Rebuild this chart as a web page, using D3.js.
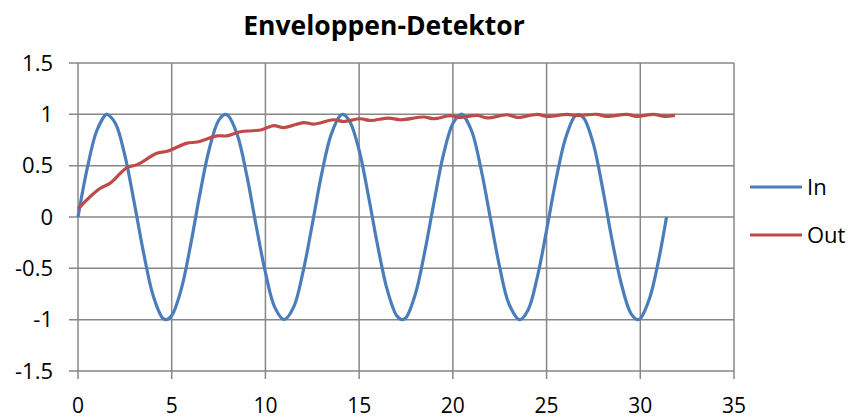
<!DOCTYPE html>
<html>
<head>
<meta charset="utf-8">
<script src="https://cdn.jsdelivr.net/npm/d3@7"></script>
<style>
  body { margin: 0; background: #fff; }
  text { font-family: "Open Sans", Lato, sans-serif; fill: #000; }
</style>
</head>
<body>
<script>
var inX = [0, 0.5, 1, 1.5, 1.57, 2, 2.5, 3, 3.5, 4, 4.5, 4.71, 5, 5.5, 6, 6.5, 7, 7.5, 7.85, 8, 8.5, 9, 9.5, 10, 10.5, 11, 11.5, 12, 12.5, 13, 13.5, 14, 14.14, 14.5, 15, 15.5, 16, 16.5, 17, 17.28, 17.5, 18, 18.5, 19, 19.5, 20, 20.42, 20.5, 21, 21.5, 22, 22.5, 23, 23.56, 24, 24.5, 25, 25.5, 26, 26.5, 26.7, 27, 27.5, 28, 28.5, 29, 29.5, 29.85, 30, 30.5, 31, 31.4];
var inY = [0, 0.48, 0.84, 1.00, 1.00, 0.91, 0.60, 0.14, -0.35, -0.76, -0.98, -1.00, -0.96, -0.71, -0.28, 0.22, 0.66, 0.94, 1.00, 0.99, 0.80, 0.41, -0.08, -0.54, -0.88, -1.00, -0.88, -0.54, -0.07, 0.42, 0.80, 0.99, 1.00, 0.93, 0.65, 0.20, -0.29, -0.71, -0.96, -1.00, -0.98, -0.75, -0.34, 0.15, 0.61, 0.91, 1.00, 1.00, 0.84, 0.47, -0.01, -0.49, -0.85, -1.00, -0.91, -0.59, -0.13, 0.36, 0.76, 0.98, 1.00, 0.96, 0.71, 0.27, -0.23, -0.66, -0.94, -1.00, -0.99, -0.79, -0.40, 0.00];

// Out: detector output
var outX = [0, 0.66, 1.19, 1.72, 2.61, 3.15, 4.21, 4.75, 5.82, 6.35, 7.42, 7.95, 8.66, 9.28, 9.8, 10.44, 10.97, 12.04, 12.57, 13.64, 14.17, 15.06, 15.6, 16.57, 17.2, 18.45, 18.98, 19.87, 20.4, 21.3, 21.82, 22.9, 23.43, 24.5, 25.04, 26.1, 26.6, 27.7, 28.2, 29.3, 29.8, 30.7, 31.3, 31.85];
var outY = [0.08, 0.20, 0.28, 0.33, 0.48, 0.51, 0.62, 0.64, 0.72, 0.73, 0.79, 0.79, 0.83, 0.84, 0.85, 0.89, 0.87, 0.92, 0.905, 0.947, 0.93, 0.957, 0.94, 0.964, 0.947, 0.974, 0.957, 0.986, 0.97, 0.99, 0.965, 0.996, 0.97, 1.0, 0.98, 1.0, 0.99, 1.0, 0.98, 1.0, 0.98, 1.0, 0.98, 0.99];

var xTicks = [0, 5, 10, 15, 20, 25, 30, 35];
var yTicks = [-1.5, -1, -0.5, 0, 0.5, 1, 1.5];

var width = 849, height = 419;
var plotLeft = 78, plotRight = 734, plotTop = 63, plotBottom = 371;

var x = d3.scaleLinear().domain([0, 35]).range([plotLeft, plotRight]);
var y = d3.scaleLinear().domain([-1.5, 1.5]).range([plotBottom, plotTop]);

var svg = d3.select('body').append('svg')
	.attr('width', width)
	.attr('height', height);

svg.append('text')
	.attr('x', 384)
	.attr('y', 35)
	.attr('text-anchor', 'middle')
	.style('font-size', '26.5px')
	.style('font-weight', 'bold')
	.text('Enveloppen-Detektor');

// gridlines
svg.append('g').selectAll('line')
	.data(yTicks)
	.enter().append('line')
		.attr('x1', plotLeft - 9).attr('x2', plotRight)
		.attr('y1', function(d){ return y(d) })
		.attr('y2', function(d){ return y(d) })
		.style('stroke', '#878787').style('stroke-width', 1.5);

svg.append('g').selectAll('line')
	.data(xTicks)
	.enter().append('line')
		.attr('y1', plotTop).attr('y2', plotBottom + 8)
		.attr('x1', function(d){ return x(d) })
		.attr('x2', function(d){ return x(d) })
		.style('stroke', '#878787').style('stroke-width', 1.5);

// tick labels
svg.append('g').selectAll('text')
	.data(yTicks)
	.enter().append('text')
		.attr('x', 53)
		.attr('y', function(d){ return y(d) })
		.attr('dy', '0.35em')
		.attr('text-anchor', 'end')
		.style('font-size', '22px')
		.text(function(d){ return d });

svg.append('g').selectAll('text')
	.data(xTicks)
	.enter().append('text')
		.attr('x', function(d){ return x(d) })
		.attr('y', 413)
		.attr('text-anchor', 'middle')
		.style('font-size', '21px')
		.text(function(d){ return d });

var line = d3.line()
	.x(function(d){ return x(d[0]) })
	.y(function(d){ return y(d[1]) })
	.curve(d3.curveCatmullRom);

var series = [
	{ name: 'In', color: '#4a7ebb', pts: d3.zip(inX, inY) },
	{ name: 'Out', color: '#be4b48', pts: d3.zip(outX, outY) }
];

svg.append('g').selectAll('path')
	.data(series)
	.enter().append('path')
		.attr('d', function(d){ return line(d.pts) })
		.style('fill', 'none')
		.style('stroke', function(d){ return d.color })
		.style('stroke-width', 3.2)
		.style('stroke-linejoin', 'round');

// legend
var legend = svg.append('g').selectAll('g')
	.data(series)
	.enter().append('g')
		.attr('transform', function(d, i){ return 'translate(750,' + (187 + i * 48) + ')' });

legend.append('line')
	.attr('x1', 0).attr('x2', 52)
	.style('stroke', function(d){ return d.color })
	.style('stroke-width', 3.2);

legend.append('text')
	.attr('x', 57)
	.attr('dy', '0.35em')
	.style('font-size', '22px')
	.text(function(d){ return d.name });
</script>
</body>
</html>
